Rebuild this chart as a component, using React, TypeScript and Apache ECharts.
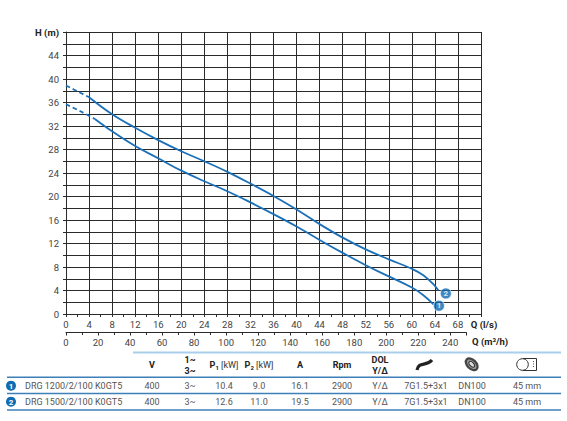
import React, { useEffect, useRef } from "react";
import * as echarts from "echarts";

// ---- data ----
const upperDashQ = [0, 2, 4];
const upperDashH = [38.9, 37.9, 36.9];
const upperQ = [4, 8, 12, 16, 20, 24, 28, 32, 36, 40, 44, 48, 52, 56, 60, 62, 64, 64.6];
const upperH = [36.9, 34.0, 31.7, 29.6, 27.7, 26.0, 24.2, 22.2, 20.1, 17.8, 15.3, 13.0, 11.0, 9.3, 7.7, 6.6, 4.8, 4.0];

const lowerDashQ = [0, 2.5, 5];
const lowerDashH = [35.7, 34.5, 33.2];
const lowerQ = [5, 8, 12, 16, 20, 24, 28, 32, 36, 40, 44, 48, 52, 56, 60, 62, 63.8];
const lowerH = [33.2, 31.1, 28.6, 26.5, 24.4, 22.6, 20.9, 19.0, 17.0, 14.9, 12.6, 10.4, 8.3, 6.4, 4.5, 3.2, 1.6];

const markerQ = [64.7, 65.9];
const markerH = [1.4, 3.5];
const markerLabels = ["1", "2"];

const pumpNames = ["DRG 1200/2/100 K0GT5", "DRG 1500/2/100 K0GT5"];
const colV = ["400", "400"];
const colPhase = ["3~", "3~"];
const colP1 = ["10.4", "12.6"];
const colP2 = ["9.0", "11.0"];
const colA = ["16.1", "19.5"];
const colRpm = ["2900", "2900"];
const colStart = ["Y/Δ", "Y/Δ"];
const colCable = ["7G1.5+3x1", "7G1.5+3x1"];
const colFlange = ["DN100", "DN100"];
const colPassage = ["45 mm", "45 mm"];

const BLUE = "#1a70b8";
const GRID = "#2a2a2a";
const FONT = "Roboto, 'Noto Sans', sans-serif";

const zip = (a: number[], b: number[]) => a.map((v, i) => [v, b[i]]);

export default function App() {
  const ref = useRef<HTMLDivElement>(null);
  useEffect(() => {
    if (!ref.current) return;
    const chart = echarts.init(ref.current, undefined, { renderer: "svg" });

    const colX = [152, 190, 224, 259, 300, 342, 380, 426, 472, 527];
    const rowY = [385.7, 401.7];
    const cols = [colV, colPhase, colP1, colP2, colA, colRpm, colStart, colCable, colFlange, colPassage];

    const text = (x: number, y: number, t: string, extra: any = {}) => ({
      type: "text",
      x,
      y,
      style: {
        text: t,
        fontFamily: FONT,
        fontSize: 9,
        fill: "#555",
        align: "center",
        verticalAlign: "middle",
        ...extra,
      },
    });
    const hline = (x1: number, x2: number, y: number, stroke: string, lw: number) => ({
      type: "line",
      shape: { x1, y1: y, x2, y2: y },
      style: { stroke, lineWidth: lw },
    });

    const graphics: any[] = [];
    graphics.push(text(472, 341.7, "Q (m³/h)", { align: "left", fontWeight: "bold", fill: "#222", fontSize: 9.5 }));
    graphics.push(hline(133, 561, 352.5, "#a9cfea", 2));
    graphics.push(hline(7, 561, 377.3, "#3d7fb8", 1.5));
    graphics.push(hline(7, 561, 393.6, "#3d7fb8", 1.5));
    graphics.push(hline(7, 561, 410, "#3d7fb8", 1.5));
    const hb = { fontWeight: "bold", fill: "#222", fontSize: 9 };
    graphics.push(text(colX[0], 365, "V", hb));
    graphics.push(text(colX[1], 360, "1~", hb));
    graphics.push(text(colX[1], 371, "3~", hb));
    const pRich = {
      b: { fontWeight: "bold", fontSize: 9, fill: "#222", fontFamily: FONT },
      s: { fontWeight: "bold", fontSize: 6, fill: "#222", fontFamily: FONT, padding: [4, 0, 0, 0] },
      n: { fontSize: 9, fill: "#333", fontFamily: FONT },
    };
    graphics.push(text(colX[2], 365, "{b|P}{s|1}{n| [kW]}", { rich: pRich }));
    graphics.push(text(colX[3], 365, "{b|P}{s|2}{n| [kW]}", { rich: pRich }));
    graphics.push(text(colX[4], 365, "A", hb));
    graphics.push(text(colX[5], 365, "Rpm", hb));
    graphics.push(text(colX[6], 360, "DOL", hb));
    graphics.push(text(colX[6], 371, "Y/Δ", hb));
    graphics.push({
      type: "bezierCurve",
      shape: { x1: 417, y1: 370, cpx1: 419, cpy1: 361, cpx2: 426, cpy2: 367, x2: 432, y2: 360 },
      style: { stroke: "#222", lineWidth: 3.2, fill: null },
    });
    graphics.push({
      type: "ellipse",
      x: 471.7,
      y: 364.3,
      rotation: -Math.PI / 4,
      shape: { cx: 0, cy: 0, rx: 7, ry: 4.5 },
      style: { stroke: "#444", lineWidth: 2.2, fill: "#9a9a9a" },
    });
    graphics.push({
      type: "ellipse",
      x: 471.7,
      y: 364.3,
      rotation: -Math.PI / 4,
      shape: { cx: 0, cy: 0, rx: 3.5, ry: 2 },
      style: { stroke: "#333", lineWidth: 1, fill: "#ddd" },
    });
    graphics.push({
      type: "rect",
      shape: { x: 523, y: 358.5, width: 13.5, height: 12 },
      style: { stroke: "#333", lineWidth: 1, fill: "#fff" },
    });
    graphics.push({
      type: "line",
      shape: { x1: 533.5, y1: 361, x2: 533.5, y2: 368 },
      style: { stroke: "#555", lineWidth: 1, lineDash: [1, 1.5] },
    });
    graphics.push({
      type: "circle",
      shape: { cx: 522.5, cy: 364.5, r: 5.8 },
      style: { stroke: "#333", lineWidth: 1, fill: "#fff" },
    });
    for (let r = 0; r < 2; r++) {
      const y = rowY[r];
      graphics.push({
        type: "circle",
        shape: { cx: 11, cy: y, r: 5 },
        style: { fill: "#0f6cb3" },
      });
      graphics.push(text(11, y + 0.5, markerLabels[r], { fill: "#fff", fontWeight: "bold", fontSize: 8 }));
      graphics.push(text(25, y, pumpNames[r], { align: "left" }));
      cols.forEach((c, i) => graphics.push(text(colX[i], y, c[r])));
    }

    const lineSeries = (data: number[][], dashed: boolean) => ({
      type: "line",
      xAxisIndex: 0,
      yAxisIndex: 0,
      data,
      smooth: 0.4,
      showSymbol: false,
      symbol: "none",
      lineStyle: { color: BLUE, width: 1.8, type: dashed ? [4.5, 3] : "solid" },
      z: 3,
    });

    chart.setOption({
      animation: false,
      textStyle: { fontFamily: FONT },
      grid: [
        { left: 66, right: 86, top: 32, bottom: 107, show: false },
        { left: 66, right: 100.7, top: 32, bottom: 88.5, show: false },
      ],
      xAxis: [
        {
          type: "value",
          gridIndex: 0,
          min: 0,
          max: 72,
          interval: 4,
          axisLine: { show: true, lineStyle: { color: GRID, width: 1 } },
          axisTick: { show: true, length: 3, lineStyle: { color: GRID } },
          minorTick: { show: true, splitNumber: 2, length: 3, lineStyle: { color: GRID } },
          splitLine: { show: true, lineStyle: { color: GRID, width: 1 } },
          axisLabel: {
            margin: 5,
            fontSize: 9.5,
            color: "#444",
            formatter: (v: number) => (v === 72 ? "{b|Q (l/s)}" : String(v)),
            rich: { b: { fontWeight: "bold", color: "#222", fontSize: 9.5, padding: [0, 0, 0, 6] } },
          },
        },
        {
          type: "value",
          gridIndex: 1,
          min: 0,
          max: 250,
          interval: 20,
          axisLine: { show: true, lineStyle: { color: GRID, width: 1 } },
          axisTick: { show: true, length: 3, lineStyle: { color: GRID } },
          minorTick: { show: true, splitNumber: 2, length: 2.5, lineStyle: { color: GRID } },
          splitLine: { show: false },
          axisLabel: {
            margin: 5,
            fontSize: 9.5,
            color: "#444",
            formatter: (v: number) => (v === 250 ? "" : String(v)),
          },
        },
      ],
      yAxis: [
        {
          type: "value",
          gridIndex: 0,
          min: 0,
          max: 48,
          interval: 4,
          axisLine: { show: true, lineStyle: { color: GRID, width: 1 } },
          axisTick: { show: true, length: 3, lineStyle: { color: GRID } },
          minorTick: { show: true, splitNumber: 2, length: 3, lineStyle: { color: GRID } },
          splitLine: { show: true, lineStyle: { color: GRID, width: 1 } },
          minorSplitLine: { show: true, lineStyle: { color: GRID, width: 1 } },
          axisLabel: {
            margin: 7,
            fontSize: 9.5,
            color: "#444",
            formatter: (v: number) => (v === 48 ? "{b|H (m)}" : String(v)),
            rich: { b: { fontWeight: "bold", color: "#222", fontSize: 9.5 } },
          },
        },
        { type: "value", gridIndex: 1, min: 0, max: 1, show: false },
      ],
      series: [
        lineSeries(zip(upperDashQ, upperDashH), true),
        lineSeries(zip(upperQ, upperH), false),
        lineSeries(zip(lowerDashQ, lowerDashH), true),
        lineSeries(zip(lowerQ, lowerH), false),
        {
          type: "scatter",
          xAxisIndex: 0,
          yAxisIndex: 0,
          data: zip(markerQ, markerH).map((p, i) => ({ value: p, name: markerLabels[i] })),
          symbol: "circle",
          symbolSize: 11,
          itemStyle: { color: "#0f6cb3", borderColor: "#fff", borderWidth: 0.8 },
          label: {
            show: true,
            position: "inside",
            formatter: (p: any) => p.name,
            color: "#fff",
            fontWeight: "bold",
            fontSize: 8,
          },
          z: 5,
        },
      ],
      graphic: graphics,
    });
    return () => chart.dispose();
  }, []);
  return (
    <div
      ref={ref}
      style={{ position: "fixed", left: 0, top: 0, width: 567, height: 421, background: "#fff" }}
    />
  );
}
